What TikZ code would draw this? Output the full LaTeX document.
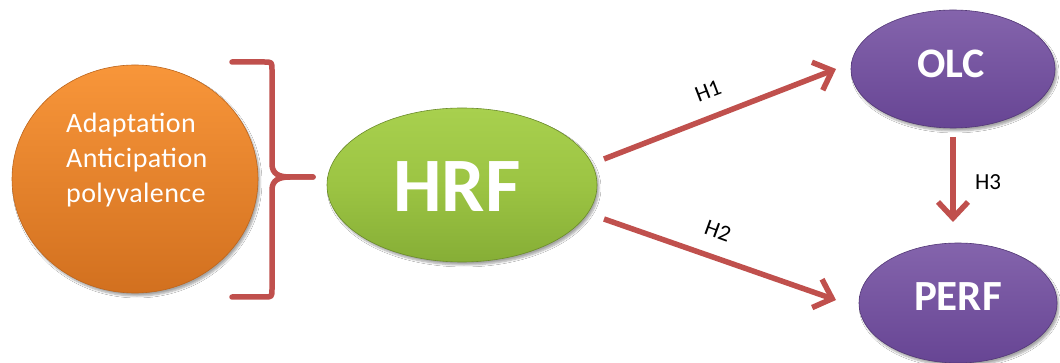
\documentclass[tikz,border=0pt]{standalone}
\usepackage{fontspec}
\setmainfont{Carlito}
\usetikzlibrary{shapes.geometric,arrows.meta,shadows.blur}
\definecolor{brace}{HTML}{C0504D}
\definecolor{orTop}{HTML}{F8963A}
\definecolor{orBot}{HTML}{D2701F}
\definecolor{grTop}{HTML}{A8D04E}
\definecolor{grMid}{HTML}{9CC443}
\definecolor{grBot}{HTML}{86AE36}
\definecolor{puTop}{HTML}{8464AC}
\definecolor{puBot}{HTML}{674594}
\tikzset{
  blob/.style={ellipse, inner sep=0pt, text=white,
    blur shadow={shadow xshift=2pt, shadow yshift=-3pt, shadow blur steps=6, shadow opacity=35}},
  orangeblob/.style={blob, top color=orTop, bottom color=orBot, draw=orBot!90!black, line width=0.6pt},
  greenblob/.style={blob, top color=grTop, bottom color=grBot, middle color=grMid, draw=grBot!80!black, line width=0.6pt},
  purpleblob/.style={blob, top color=puTop, bottom color=puBot, draw=puBot!80!black, line width=0.6pt},
  link/.style={draw=brace, line width=5.5pt, -{Straight Barb[length=16pt, width=30pt, line width=5.5pt]}},
  hlabel/.style={font=\fontsize{23}{23}\selectfont, text=black, inner sep=0pt}
}
\begin{document}
\begin{tikzpicture}[x=1pt, y=-1pt]
  \useasboundingbox[fill=white] (0,0) rectangle (1060,363);

  % factor circle
  \node[orangeblob, minimum width=246pt, minimum height=228pt] (fac) at (135,179) {};
  \node[align=left, anchor=north west, inner sep=0pt, text=white,
        font=\addfontfeatures{LetterSpace=1.5}\fontsize{28}{35}\selectfont] (factxt) at (66,113)
        {Adaptation\\Anticipation\\polyvalence};

  % curly brace grouping the factors
  \draw[brace, line width=5.5pt, line cap=round, line join=round]
    (232,62) -- (264,62) .. controls (272,62) .. (272,70) -- (272,164)
    .. controls (272,174) and (279,177) .. (290,177) -- (313,177);
  \draw[brace, line width=5.5pt, line cap=round, line join=round]
    (313,177) -- (290,177) .. controls (279,177) and (272,180) .. (272,190)
    -- (272,289) .. controls (272,297) .. (264,297) -- (232,297);

  % main constructs
  \node[greenblob, minimum width=270pt, minimum height=154pt] (hrf) at (462,185) {};
  \node[text=white, font=\bfseries\fontsize{77}{77}\selectfont, inner sep=0pt] (hrftxt) at (457,187) {HRF};

  \node[purpleblob, minimum width=204pt, minimum height=118pt] (olc) at (953,69) {};
  \node[text=white, font=\bfseries\fontsize{42}{42}\selectfont, inner sep=0pt] (olctxt) at (951,64) {OLC};

  \node[purpleblob, minimum width=198pt, minimum height=120pt] (perf) at (958,303) {};
  \node[text=white, font=\bfseries\fontsize{43}{43}\selectfont, inner sep=0pt] (perftxt) at (958,297) {PERF};

  % hypothesis arrows
  \coordinate (h1s) at (604,159);
  \coordinate (h1e) at (836,69);
  \coordinate (h2s) at (604,219);
  \coordinate (h2e) at (836,300);
  \coordinate (h3s) at (953,137);
  \coordinate (h3e) at (953,222);
  \draw[link] (h1s) -- (h1e);
  \draw[link] (h2s) -- (h2e);
  \draw[link] (h3s) -- (h3e);

  \node[hlabel, rotate=21] (l1) at (708,91) {H1};
  \node[hlabel, rotate=-20] (l2) at (718,231) {H2};
  \node[hlabel] (l3) at (988,182) {H3};
\end{tikzpicture}
\end{document}
